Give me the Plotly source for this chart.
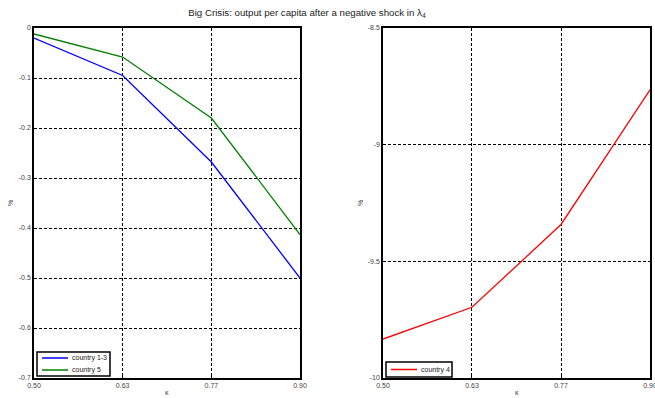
import plotly.graph_objects as go

kappa = [0.5, 0.6333, 0.7667, 0.9]
kappa_ticktext = ["0.50", "0.63", "0.77", "0.90"]
country_1_3 = [-0.020, -0.095, -0.268, -0.500]
country_5 = [-0.012, -0.058, -0.180, -0.413]
country_4 = [-9.833, -9.697, -9.342, -8.765]

left_yticks = [0, -0.1, -0.2, -0.3, -0.4, -0.5, -0.6, -0.7]
left_ytext = ["0", "-0.1", "-0.2", "-0.3", "-0.4", "-0.5", "-0.6", "-0.7"]
right_yticks = [-8.5, -9, -9.5, -10]
right_ytext = ["-8.5", "-9", "-9.5", "-10"]

W, H = 655, 398
SL, ST, SR, SB = 34, 28, 650, 378          # plot area in pixels
ML, MT, MR, MB = SL, ST, W - SR, H - SB
PW, PH = SR - SL, SB - ST


def px(x):
    return (x - SL) / PW


def py(y):
    return (SB - y) / PH


series = [
    dict(name="country 1-3", y=country_1_3, color="#0000ff", xa="x", ya="y"),
    dict(name="country 5", y=country_5, color="#007f00", xa="x", ya="y"),
    dict(name="country 4", y=country_4, color="#ff0000", xa="x2", ya="y2"),
]

fig = go.Figure()
for s in series:
    fig.add_trace(go.Scatter(x=kappa, y=s["y"], mode="lines", name=s["name"],
                             line=dict(color=s["color"], width=1.3),
                             xaxis=s["xa"], yaxis=s["ya"], showlegend=False))

font = "Liberation Sans, Arial, sans-serif"
axcommon = dict(showline=True, linecolor="black", linewidth=1.5, mirror=True,
                showgrid=True, gridcolor="black", griddash="3px,2px", gridwidth=1,
                zeroline=False, ticks="inside", ticklen=3, tickcolor="black",
                automargin=False, ticklabeloverflow="allow",
                tickfont=dict(size=7, color="#444", family=font))

shapes = []
annotations = []

# compact legends, as in the reference
legends = [
    dict(box=(37, 352, 110, 376), items=[series[0], series[1]]),
    dict(box=(386, 362, 452, 377), items=[series[2]]),
]
for lg in legends:
    x0, y0, x1, y1 = lg["box"]
    shapes.append(dict(type="rect", xref="paper", yref="paper",
                       x0=px(x0), x1=px(x1), y0=py(y1), y1=py(y0),
                       line=dict(color="black", width=1.5), fillcolor="white", layer="above"))
    n = len(lg["items"])
    rowh = (y1 - y0) / n
    for i, it in enumerate(lg["items"]):
        yc = y0 + rowh * (i + 0.5)
        shapes.append(dict(type="line", xref="paper", yref="paper",
                           x0=px(x0 + 5), x1=px(x0 + 31), y0=py(yc), y1=py(yc),
                           line=dict(color=it["color"], width=1.5), layer="above"))
        annotations.append(dict(text=it["name"], xref="paper", yref="paper",
                                x=px(x0 + 33), y=py(yc), xanchor="left", yanchor="middle",
                                showarrow=False, font=dict(size=7, color="#222", family=font)))

# axis titles
for xc in [(SL + 300) / 2, (383 + SR) / 2]:
    annotations.append(dict(text="κ", xref="paper", yref="paper", x=px(xc), y=py(392),
                            xanchor="center", yanchor="middle", showarrow=False,
                            font=dict(size=7, color="#444", family=font)))
for xc in [10, 360]:
    annotations.append(dict(text="%", xref="paper", yref="paper", x=px(xc), y=py(203),
                            xanchor="center", yanchor="middle", showarrow=False, textangle=-90,
                            font=dict(size=7, color="#444", family=font)))

fig.update_layout(
    width=W, height=H,
    margin=dict(l=ML, r=MR, t=MT, b=MB),
    paper_bgcolor="white", plot_bgcolor="white",
    font=dict(family=font, color="#222"),
    showlegend=False,
    title=dict(text="Big Crisis: output per capita after a negative shock in λ<sub>4</sub>",
               x=307 / W, xanchor="center", xref="container", yref="container",
               y=1 - 13 / H, yanchor="middle", font=dict(size=9.7, color="#222")),
    xaxis=dict(domain=[0, (300 - SL) / PW], range=[0.5, 0.9], tickvals=kappa, ticktext=kappa_ticktext,
               anchor="y", **axcommon),
    yaxis=dict(range=[-0.7, 0], tickvals=left_yticks, ticktext=left_ytext, anchor="x", **axcommon),
    xaxis2=dict(domain=[(383 - SL) / PW, 1], range=[0.5, 0.9], tickvals=kappa, ticktext=kappa_ticktext,
                anchor="y2", **axcommon),
    yaxis2=dict(range=[-10, -8.5], tickvals=right_yticks, ticktext=right_ytext, anchor="x2", **axcommon),
    shapes=shapes,
    annotations=annotations,
)

fig.write_html("out.html", post_script="document.body.style.margin='0';",
               config={"displayModeBar": False})
